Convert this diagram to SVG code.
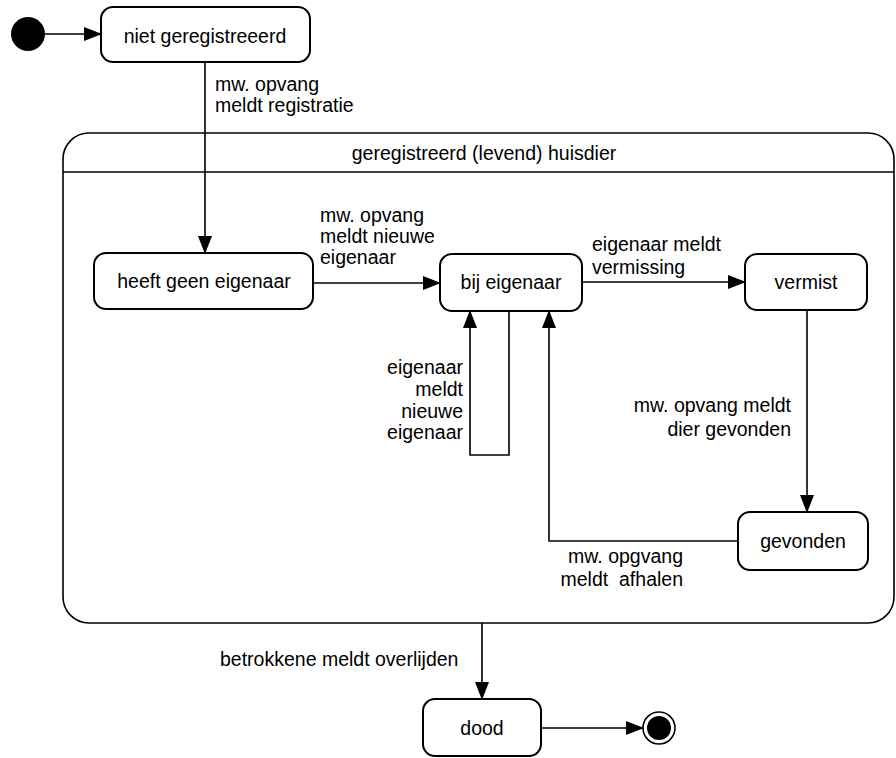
<svg xmlns="http://www.w3.org/2000/svg" width="896" height="758" viewBox="0 0 896 758">
<defs>
<marker id="arr" markerWidth="18" markerHeight="14" refX="17" refY="7" orient="auto" markerUnits="userSpaceOnUse">
<path d="M0,0 L18,7 L0,14 Z" fill="#000"/>
</marker>
<style>
.st{fill:#fff;stroke:#000;stroke-width:2}
.sup{fill:none;stroke:#000;stroke-width:1.6}
.c{fill:none;stroke:#000;stroke-width:1.6}
text{font-family:"Liberation Sans",Arial,sans-serif;font-size:19.5px;fill:#000}
.m{text-anchor:middle}
.e{text-anchor:end}
</style>
</defs>
<rect width="896" height="758" fill="#fff"/>
<g id="superstate">
<rect class="sup" x="63" y="133" width="831" height="490" rx="26" ry="26"/>
<line class="sup" x1="63" y1="172" x2="894" y2="172"/>
<text class="m" x="484" y="160">geregistreerd (levend) huisdier</text>
</g>
<g id="initial"><circle cx="28" cy="34" r="17" fill="#000"/></g>
<g id="niet-geregistreerd">
<rect class="st" x="101" y="7" width="209" height="55" rx="12"/>
<text class="m" x="205" y="43">niet geregistreeerd</text>
</g>
<g id="heeft-geen-eigenaar">
<rect class="st" x="94" y="253" width="219" height="56" rx="12"/>
<text class="m" x="204" y="288">heeft geen eigenaar</text>
</g>
<g id="bij-eigenaar">
<rect class="st" x="440" y="254" width="142" height="57" rx="12"/>
<text class="m" x="511" y="289">bij eigenaar</text>
</g>
<g id="vermist">
<rect class="st" x="745" y="254" width="122" height="56" rx="12"/>
<text class="m" x="806" y="289">vermist</text>
</g>
<g id="gevonden">
<rect class="st" x="738" y="512" width="130" height="58" rx="12"/>
<text class="m" x="803" y="548">gevonden</text>
</g>
<g id="dood">
<rect class="st" x="423" y="699" width="118" height="57" rx="12"/>
<text class="m" x="482" y="735">dood</text>
</g>
<g id="final">
<circle cx="659" cy="728" r="16" fill="#fff" stroke="#000" stroke-width="1.6"/>
<circle cx="659" cy="728" r="12" fill="#000"/>
</g>
<g id="connectors">
<line class="c" x1="45" y1="34" x2="101" y2="34" marker-end="url(#arr)"/>
<line class="c" x1="205" y1="62" x2="205" y2="253" marker-end="url(#arr)"/>
<line class="c" x1="313" y1="283" x2="440" y2="283" marker-end="url(#arr)"/>
<line class="c" x1="582" y1="282" x2="745" y2="282" marker-end="url(#arr)"/>
<line class="c" x1="807" y1="310" x2="807" y2="512" marker-end="url(#arr)"/>
<polyline class="c" points="738,541 549,541 549,311" marker-end="url(#arr)"/>
<polyline class="c" points="509,311 509,455 470,455 470,311" marker-end="url(#arr)"/>
<line class="c" x1="482" y1="623" x2="482" y2="699" marker-end="url(#arr)"/>
<line class="c" x1="541" y1="728" x2="643" y2="728" marker-end="url(#arr)"/>
<text x="215" y="91">mw. opvang</text>
<text x="215" y="112">meldt registratie</text>
<text x="320" y="222">mw. opvang</text>
<text x="320" y="243">meldt nieuwe</text>
<text x="320" y="264">eigenaar</text>
<text x="592" y="251">eigenaar meldt</text>
<text x="592" y="274">vermissing</text>
<text class="e" x="463" y="374">eigenaar</text>
<text class="e" x="463" y="396">meldt</text>
<text class="e" x="463" y="418">nieuwe</text>
<text class="e" x="463" y="439">eigenaar</text>
<text class="e" x="791" y="412">mw. opvang meldt</text>
<text class="e" x="791" y="436">dier gevonden</text>
<text class="e" x="683" y="563">mw. opgvang</text>
<text class="e" x="683" y="586" xml:space="preserve">meldt  afhalen</text>
<text x="220" y="666">betrokkene meldt overlijden</text>
</g>
</svg>
